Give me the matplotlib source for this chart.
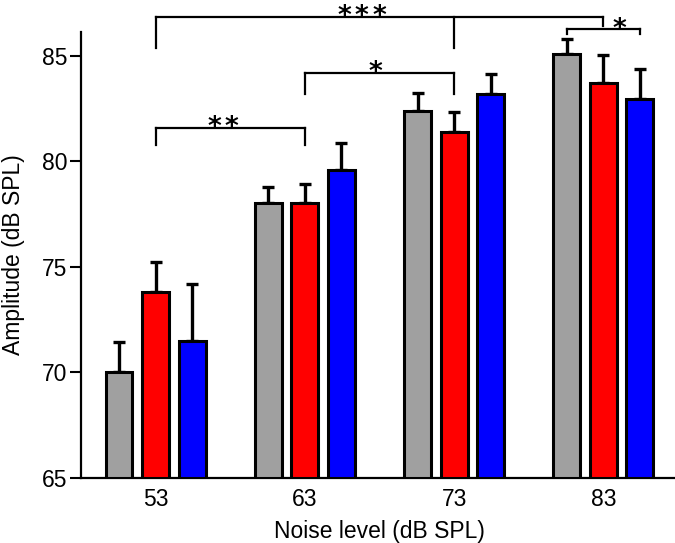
import numpy as np
import matplotlib
matplotlib.use("Agg")
import matplotlib.pyplot as plt

plt.rcParams['font.family'] = ['Liberation Sans', 'DejaVu Sans']

# noise levels (dB SPL) and mean amplitude per condition
levels = ['53', '63', '73', '83']
gray_vals = [70.0, 78.05, 82.4, 85.1]
gray_err = [1.45, 0.72, 0.85, 0.68]
red_vals = [73.8, 78.05, 81.4, 83.7]
red_err = [1.45, 0.9, 0.95, 1.35]
blue_vals = [71.5, 79.6, 83.2, 82.95]
blue_err = [2.7, 1.25, 0.95, 1.45]

x = np.arange(len(levels))
off = 0.245
w = 0.18

fig = plt.figure(figsize=(6.75, 5.43), dpi=100)
ax = fig.add_axes([0.12, 0.1197, 0.8844, 0.8213])

series = [(gray_vals, gray_err, '#a0a0a0', -off),
          (red_vals, red_err, '#ff0000', 0.0),
          (blue_vals, blue_err, '#0000ff', off)]
for vals, err, col, dx in series:
    ax.bar(x + dx, np.array(vals) - 65, width=w, bottom=65, color=col,
           edgecolor='black', linewidth=2.2, zorder=3)
    ax.errorbar(x + dx, vals, yerr=[np.zeros(len(err)), err], fmt='none',
                ecolor='black', elinewidth=2.4, capsize=4.5, capthick=2.4,
                zorder=2)

ax.set_ylim(65, 86.13)
ax.set_xlim(-0.5, 3.5)
ax.set_yticks([65, 70, 75, 80, 85])
ax.set_xticks(x)
ax.set_xticklabels(levels)
ax.tick_params(axis='y', direction='out', length=8, width=1.5, labelsize=16.5, pad=2)
ax.tick_params(axis='x', length=0, labelsize=16.5, pad=7)
for s in ['top', 'right']:
    ax.spines[s].set_visible(False)
for s in ['left', 'bottom']:
    ax.spines[s].set_linewidth(1.6)
ax.set_xlabel('Noise level (dB SPL)', fontsize=16.5, labelpad=7)
ax.set_ylabel('Amplitude (dB SPL)', fontsize=16.5, labelpad=12)


def bracket(xs, ybar, ylegs, nstars, tx):
    kw = dict(color='black', lw=1.6, clip_on=False, zorder=4)
    ax.plot([xs[0], xs[-1]], [ybar, ybar], **kw)
    for xi, yl in zip(xs, ylegs):
        ax.plot([xi, xi], [ybar, yl], **kw)
    for i in range(nstars):
        ax.annotate('*', xy=(tx, ybar), xytext=((i - (nstars - 1) / 2) * 12.7, -5.2),
                    textcoords='offset points', ha='center', va='baseline',
                    fontsize=19, fontweight='bold', family='DejaVu Sans',
                    annotation_clip=False)


bracket([x[0], x[1]], 81.6, [80.78, 80.78], 2, 0.45)
bracket([x[1], x[2]], 84.2, [83.2, 83.2], 1, 1.47)
bracket([x[0], x[2], x[3]], 86.86, [85.35, 85.35, 86.42], 3, 1.38)
bracket([x[3] - off, x[3] + off], 86.26, [86.05, 86.05], 1, 3.11)

fig.savefig('out.png', dpi=100)
